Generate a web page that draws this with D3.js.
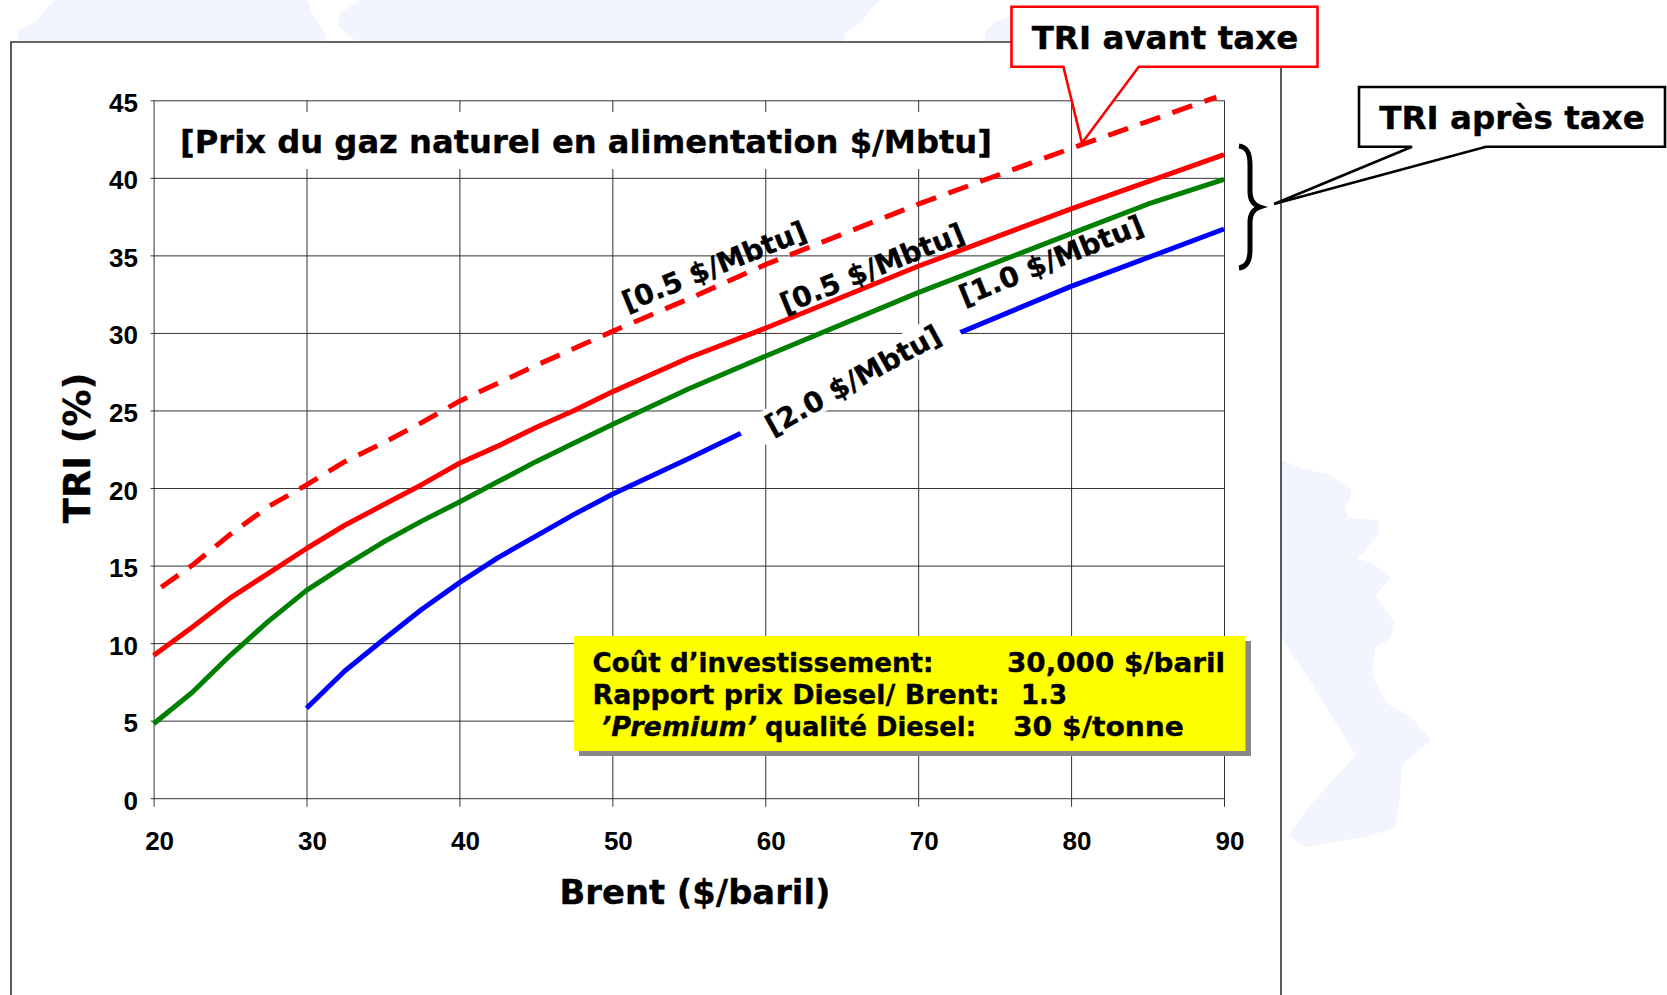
<!DOCTYPE html>
<html lang="fr">
<head>
<meta charset="utf-8">
<title>TRI en fonction du Brent</title>
<script src="https://cdn.jsdelivr.net/npm/d3@7/dist/d3.min.js"></script>
<style>
  html, body { margin: 0; padding: 0; background: #fff; }
  svg { display: block; }
  .wide { font-family: "DejaVu Sans", Verdana, sans-serif; font-weight: 700; fill: #000; stroke: #000; stroke-width: 0.35; white-space: pre; }
  .tick-label { font-family: "Liberation Sans", Arial, sans-serif; font-weight: 700; font-size: 26px; fill: #000; }
</style>
</head>
<body>
<svg id="chart" width="1667" height="995"></svg>
<script>
// Internal rate of return against Brent price, one curve per feedstock gas price.
const brentTicks = [20, 30, 40, 50, 60, 70, 80, 90];
const triTicks = [0, 5, 10, 15, 20, 25, 30, 35, 40, 45];

const brentSolidRed = [20, 22.5, 25, 27.5, 30, 32.5, 35, 37.5, 40, 42.5, 45, 47.5, 50, 55, 60, 70, 80, 90];
const triSolidRed = [9.2, 11.0, 12.9, 14.5, 16.1, 17.6, 18.9, 20.2, 21.6, 22.7, 23.9, 25.0, 26.2, 28.4, 30.3, 34.3, 38.0, 41.5];

const brentGreen = [20, 22.5, 25, 27.5, 30, 32.5, 35, 37.5, 40, 42.5, 45, 47.5, 50, 55, 60, 70, 80, 85, 90];
const triGreen = [4.8, 6.8, 9.2, 11.4, 13.4, 15.0, 16.5, 17.85, 19.1, 20.4, 21.7, 22.9, 24.1, 26.4, 28.5, 32.6, 36.4, 38.3, 39.9];

const brentBlue = [30, 32.5, 35, 37.5, 40, 42.5, 45, 47.5, 50, 55, 60, 70, 80, 90];
const triBlue = [5.8, 8.2, 10.2, 12.15, 13.9, 15.5, 16.9, 18.3, 19.6, 21.9, 24.3, 28.9, 33.0, 36.7];

const brentDashed = [20.5, 22.5, 25, 27.5, 30, 32.5, 35, 37.5, 40, 45, 50, 55, 60, 70, 80, 89.5];
const triDashed = [13.6, 15.0, 17.0, 18.8, 20.2, 21.7, 22.9, 24.2, 25.6, 27.9, 30.1, 32.2, 34.4, 38.3, 41.9, 45.2];

const svg = d3.select("#chart");
const x = d3.scaleLinear().domain([20, 90]).range([153.6, 1224]);
const y = d3.scaleLinear().domain([0, 45]).range([798.2, 100.3]);
const curve = d3.line().x(d => x(d[0])).y(d => y(d[1]));
const pairs = (xs, ys) => xs.map((v, i) => [v, ys[i]]);

// Pale map fragments behind the slide frame
const wash = svg.append("g").attr("fill", "#f2f4fe");
[
  "M18,42L18,30L35,22L47,8L55,0L307,0L312,13L318,22L326,35L326,42Z",
  "M357,42L345,32L338,25L340,13L360,0L880,0L870,10L862,22L845,33L844,42Z",
  "M985,42L985,32L995,22L1012,15L1012,42Z",
  "M1281,460L1300,468L1330,475L1351,490L1351,495L1345,508L1348,518L1377,520L1380,532L1364,552L1356,558L1372,563L1391,578L1375,595L1394,622L1391,638L1375,648L1372,675L1385,702L1412,718L1431,740L1402,765L1399,805L1395,828L1364,837L1327,843L1305,847L1288,835L1313,802L1356,755L1335,722L1311,682L1284,642L1281,635Z"
].forEach(p => wash.append("path").attr("d", p));

// Slide frame
svg.append("path")
  .attr("d", "M11,995L11,42L1281,42L1281,995")
  .attr("fill", "#fff").attr("stroke", "#333").attr("stroke-width", 1.6);

// Axes with full-length grid lines
const xAxis = d3.axisBottom(x).tickValues(brentTicks).tickSize(706.4).tickPadding(0).tickFormat("");
const yAxis = d3.axisLeft(y).tickValues(triTicks).tickSize(1070.4 + 3).tickPadding(0).tickFormat("");
const gx = svg.append("g").attr("transform", `translate(0,${y(45)})`).call(xAxis);
const gy = svg.append("g").attr("transform", `translate(${x(90)},0)`).call(yAxis);
[gx, gy].forEach(g => {
  g.select(".domain").remove();
  g.selectAll("line").attr("stroke", "#333").attr("stroke-width", 1);
});

// Tick labels sit to the right of / below their ticks, as in the spreadsheet export
svg.append("g").selectAll("text").data(triTicks).join("text")
  .attr("class", "tick-label").attr("text-anchor", "end")
  .attr("x", 138).attr("y", d => y(d) + 11.5).text(d => d);
svg.append("g").selectAll("text").data(brentTicks).join("text")
  .attr("class", "tick-label").attr("text-anchor", "middle")
  .attr("x", d => x(d) + 6).attr("y", 850).text(d => d);

// Mask behind the heading
svg.append("rect").attr("x", 165).attr("y", 112).attr("width", 840).attr("height", 57).attr("fill", "#fff");

// Curves
const drawCurve = (xs, ys, color, dash) => svg.append("path")
  .datum(pairs(xs, ys)).attr("d", curve)
  .attr("fill", "none").attr("stroke", color).attr("stroke-width", 5)
  .attr("stroke-linejoin", "round")
  .attr("stroke-dasharray", dash || null);
drawCurve(brentBlue, triBlue, "#0000ff");
drawCurve(brentGreen, triGreen, "#008000");
drawCurve(brentSolidRed, triSolidRed, "#ff0000");
drawCurve(brentDashed, triDashed, "#ff0000", "21 13");

// Heading and axis titles
svg.append("text").attr("class", "wide").attr("x", 180).attr("y", 153)
  .attr("font-size", 32.2).text("[Prix du gaz naturel en alimentation $/Mbtu]");
svg.append("text").attr("class", "wide").attr("x", 695).attr("y", 904)
  .attr("text-anchor", "middle").attr("font-size", 33.8).text("Brent ($/baril)");
svg.append("text").attr("class", "wide").attr("text-anchor", "middle").attr("font-size", 36.8)
  .attr("transform", "translate(90,448) rotate(-90)").text("TRI (%)");

// Slanted labels naming each curve's gas price
const slanted = (cx, cy, angle, label, mask) => {
  const g = svg.append("g").attr("transform", `translate(${cx},${cy}) rotate(${angle})`);
  if (mask) g.append("rect").attr("x", mask[0]).attr("y", -17).attr("width", mask[1] - mask[0]).attr("height", 31).attr("fill", "#fff");
  g.append("text").attr("class", "wide").attr("text-anchor", "middle").attr("y", 10)
    .attr("font-size", 28).text(label);
};
slanted(714, 266, -22, "[0.5 $/Mbtu]");
slanted(872, 268, -22, "[0.5 $/Mbtu]");
slanted(1051, 260, -22, "[1.0 $/Mbtu]");
slanted(853, 380, -29, "[2.0 $/Mbtu]", [-124, 117]);

// Assumptions box, each run of text fitted to its own span
svg.append("rect").attr("x", 579).attr("y", 641).attr("width", 672).attr("height", 115).attr("fill", "#888");
svg.append("rect").attr("x", 574).attr("y", 636).attr("width", 671.5).attr("height", 115).attr("fill", "#ffff00");
const infoRuns = [
  { t: "Coût d’investissement:", left: 592.5, span: 341, base: 672 },
  { t: "30,000 $/baril", left: 1007, span: 218, base: 672 },
  { t: "Rapport prix Diesel/ Brent:", left: 592.5, span: 407, base: 704 },
  { t: "1.3", left: 1021, span: 46, base: 704 },
  { t: "’Premium’", left: 601, span: 156, base: 736, italic: true },
  { t: "qualité Diesel:", left: 765, span: 211, base: 736 },
  { t: "30 $/tonne", left: 1013, span: 171, base: 736 }
];
svg.append("g").selectAll("text").data(infoRuns).join("text")
  .attr("class", "wide").attr("font-size", 26.5)
  .attr("font-style", d => d.italic ? "italic" : null)
  .attr("x", d => d.left).attr("y", d => d.base)
  .attr("textLength", d => d.span).attr("lengthAdjust", "spacingAndGlyphs")
  .text(d => d.t);

// Callouts
svg.append("path")
  .attr("d", "M1011.5,6.7H1317.5V66.7H1138.8L1082,143L1063.4,66.7H1011.5Z")
  .attr("fill", "#fff").attr("stroke", "#ff0000").attr("stroke-width", 2.6);
svg.append("text").attr("class", "wide").attr("x", 1165).attr("y", 49)
  .attr("text-anchor", "middle").attr("font-size", 32.6).text("TRI avant taxe");
svg.append("path")
  .attr("d", "M1359,87H1665V146.7H1486L1274,204L1412,146.7H1359Z")
  .attr("fill", "#fff").attr("stroke", "#000").attr("stroke-width", 2.6);
svg.append("text").attr("class", "wide").attr("x", 1512).attr("y", 129)
  .attr("text-anchor", "middle").attr("font-size", 32.6).text("TRI après taxe");

// Brace grouping the after-tax curves
svg.append("path")
  .attr("d", "M1239,146C1247,147 1250,153 1250,165V192C1250,201 1254,205 1260,207C1254,209 1250,213 1250,222V250C1250,260 1247,267 1239,268")
  .attr("fill", "none").attr("stroke", "#000").attr("stroke-width", 5);
</script>
</body>
</html>
